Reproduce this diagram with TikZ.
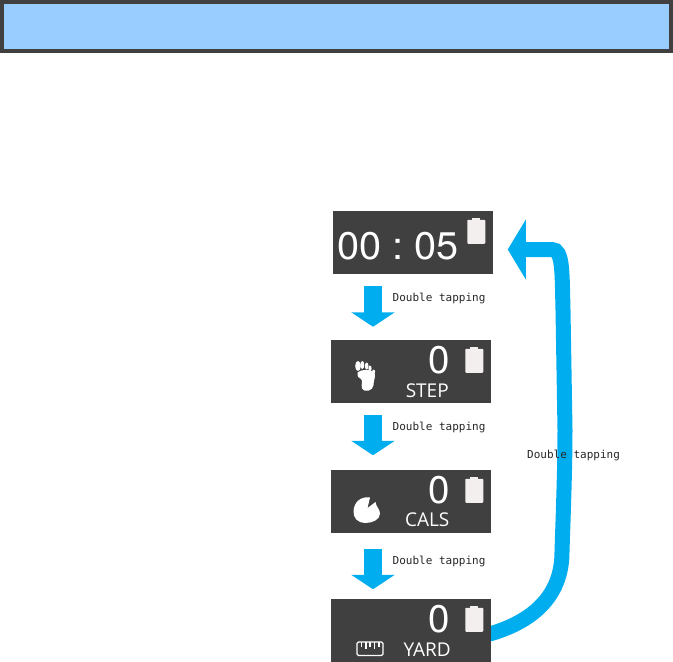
\documentclass[tikz,border=0pt]{standalone}
\usepackage{xcolor}
\usepackage{fontspec}
\usepackage{tikz}
\usetikzlibrary{arrows.meta,positioning,calc,backgrounds}
\newfontfamily\monofam{DejaVu Sans Mono}
\newfontfamily\labelfam{Open Sans}
\newfontfamily\digitfam{TeX Gyre Heros}
\definecolor{panelgray}{HTML}{404040}
\definecolor{bannerblue}{HTML}{99CCFF}
\definecolor{arrowblue}{HTML}{00AEEF}
\definecolor{batterywhite}{HTML}{F3EFEF}
\tikzstyle{banner} = [rectangle, draw=panelgray, line width=4pt, fill=bannerblue,
    minimum width=669pt, minimum height=49pt, inner sep=0pt]
\tikzstyle{panel} = [rectangle, fill=panelgray, minimum width=160pt,
    minimum height=62.5pt, inner sep=0pt, outer sep=0pt]
\tikzstyle{tapnote} = [font=\monofam\fontsize{11}{13}\selectfont, text=black!85,
    inner sep=0pt]
\tikzstyle{panelname} = [font=\labelfam\fontsize{19}{21}\selectfont, text=white,
    inner sep=0pt]
\tikzstyle{counter} = [font=\digitfam\fontsize{38.5}{39}\selectfont, text=white,
    inner sep=0pt]
\tikzstyle{downline} = [draw=arrowblue, line width=17.5pt,
    -{Triangle[width=43pt,length=14.5pt]}]
\tikzstyle{backline} = [draw=arrowblue, line width=15pt,
    -{Triangle[width=59pt,length=18pt]}]
\tikzset{battery/.pic={
    \fill[batterywhite, rounded corners=0.8pt] (-9,-11.5) rectangle (9,12.5);
    \fill[batterywhite] (-4,-13.5) rectangle (4,-11);
}}

\begin{document}
\begin{tikzpicture}[x=1pt,y=-1pt]
        \useasboundingbox (0,0) rectangle (673,662);
        \node [banner] (top) at (336.5,26.5) {};

        % Panels
        \node [panel] (time) at (412.75,242.5) {};
        \node [panel, below=66.5pt of time, xshift=-1.5pt] (step) {};
        \node [panel, below=67.5pt of step] (cals) {};
        \node [panel, below=66.5pt of cals] (yard) {};

        % Panel contents
        \node [counter, xscale=1.03] (clock) at ([shift={(65.5,34.5)}]time.north west) {00\hspace{10.5pt}:\hspace{10.5pt}05};
        \pic at ([shift={(143.5,20)}]time.north west) {battery};

        \node [counter] (stepcount) at ([shift={(107.5,20)}]step.north west) {0};
        \pic at ([shift={(143,20)}]step.north west) {battery};
        \node [panelname] (stepname) at ([shift={(96,50.5)}]step.north west) {STEP};

        \node [counter] (calscount) at ([shift={(107.5,20)}]cals.north west) {0};
        \pic at ([shift={(143,20)}]cals.north west) {battery};
        \node [panelname] (calsname) at ([shift={(96,49.5)}]cals.north west) {CALS};

        \node [counter] (yardcount) at ([shift={(107.5,20)}]yard.north west) {0};
        \pic at ([shift={(143,20)}]yard.north west) {battery};
        \node [panelname] (yardname) at ([shift={(96,50)}]yard.north west) {YARD};

        % Foot
        \fill[white] (357.5,372.5) .. controls (361,369) and (371,369) .. (374.5,372.5)
            .. controls (376,377) and (373.5,380) .. (373.5,385)
            .. controls (373.5,391) and (364,393) .. (362,388.5)
            .. controls (361,384) and (363,381) .. (361,379)
            .. controls (359,378) and (357,377) .. (357.5,372.5) -- cycle;
        \fill[white] (358,366) ellipse (2.8 and 5);
        \fill[white] (362.3,365) ellipse (2 and 4);
        \fill[white] (366.7,366) ellipse (1.8 and 3.5);
        \fill[white] (370,368.3) ellipse (1.6 and 2.8);
        \fill[white] (373.7,371.7) ellipse (1.5 and 2);

        % Flame
        \fill[white] (353.5,511) .. controls (354,502) and (361,496) .. (370,497.5)
            -- (367.5,508) -- (375.5,502)
            .. controls (376,507) and (380,509) .. (380,513.5)
            .. controls (380,520) and (372,523) .. (365,523)
            .. controls (358,523) and (353,518) .. (353.5,511) -- cycle;

        % Ruler
        \draw[white, line width=1.3pt, rounded corners=1.5pt] (357,642) rectangle (383,655.5);
        \foreach \tickx/\tickend in {361.5/647,366/649,370/647,374.5/649,379/647}
            \draw[white, line width=1.1pt] (\tickx,642) -- (\tickx,\tickend);

        % Connections
        \draw [downline, shorten <=12pt, shorten >=13.5pt] (373,0 |- time.south) -- (373,0 |- step.north);
        \draw [downline, shorten <=12.5pt, shorten >=15pt] (373,0 |- step.south) -- (373,0 |- cals.north);
        \draw [downline, shorten <=16.5pt, shorten >=10pt] (373,0 |- cals.south) -- (373,0 |- yard.north);
        \begin{scope}[on background layer]
        \draw [backline, shorten >=15pt] ([yshift=-3pt]yard.center)
            -- ([yshift=-3pt]yard.east)
            .. controls (530,622) and (562,598) .. (562,552)
            .. controls (563,520) and (565,470) .. (565,430)
            -- (563,310)
            .. controls (562,272) and (563,249.5) .. (552,249.5)
            -- (time.east |- 0,249.5);
        \end{scope}

        % Labels
        \node [tapnote, anchor=west] (tapa) at (392.5,298) {Double tapping};
        \node [tapnote, anchor=west] (tapb) at (392.5,427) {Double tapping};
        \node [tapnote, anchor=west] (tapc) at (392.5,561.5) {Double tapping};
        \node [tapnote, anchor=west] (tapd) at (527,455) {Double tapping};
    \end{tikzpicture}
\end{document}
